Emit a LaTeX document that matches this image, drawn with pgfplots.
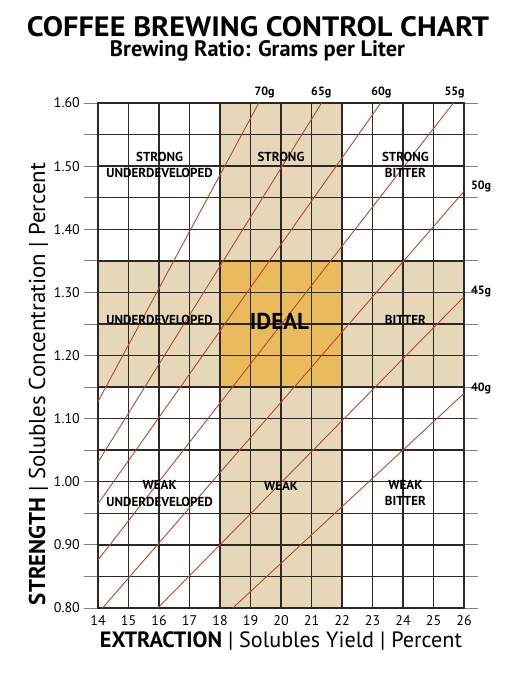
\documentclass[border=0pt]{standalone}
\usepackage{fontspec}
\setmainfont{PT Sans}
\usepackage{graphicx}
\usepackage{pgfplots}
\pgfplotsset{compat=1.18}
\definecolor{tanband}{RGB}{231,215,185}
\definecolor{idealgold}{RGB}{234,187,92}
\definecolor{ratioline}{RGB}{185,72,50}
\definecolor{gridc}{RGB}{45,40,35}
\begin{document}
\begin{tikzpicture}
\path (0pt,0pt) rectangle (516pt,688pt);
\node[anchor=base, inner sep=0] at (258pt,651.5pt) {\resizebox{462pt}{20pt}{\bfseries COFFEE BREWING CONTROL CHART}};
\node[anchor=base, inner sep=0] at (257.5pt,631pt) {\resizebox{295pt}{!}{\bfseries Brewing Ratio: Grams per Liter}};
\node[anchor=base, inner sep=0, rotate=90] at (45pt,304pt) {\resizebox{442pt}{!}{\textbf{STRENGTH} | Solubles Concentration | Percent}};
\node[anchor=base, inner sep=0] at (281pt,40pt) {\resizebox{362pt}{!}{\textbf{EXTRACTION} | Solubles Yield | Percent}};
\begin{axis}[
  at={(98pt,80pt)}, anchor=south west, scale only axis,
  width=366pt, height=505pt,
  xmin=14, xmax=26, ymin=0.8, ymax=1.6,
  set layers, clip=false,
  xtick={14,15,16,17,18,19,20,21,22,23,24,25,26},
  ytick={0.8,0.85,0.9,0.95,1.0,1.05,1.1,1.15,1.2,1.25,1.3,1.35,1.4,1.45,1.5,1.55,1.6},
  yticklabels={0.80,{},0.90,{},1.00,{},1.10,{},1.20,{},1.30,{},1.40,{},1.50,{},1.60},
  grid=major,
  major grid style={gridc, line width=1.4pt},
  axis line style={gridc, line width=1.4pt},
  ytick align=outside,
  major tick length=14pt,
  ytick style={gray, line width=0.8pt},
  xtick style={draw=none},
  /pgf/number format/assume math mode=true,
  yticklabel style={font=\fontsize{14}{14}\selectfont, inner sep=0pt, xshift=-4pt},
  xticklabel style={font=\fontsize{14}{14}\selectfont, inner sep=0pt, yshift=-7pt},
]
\addplot[on layer=axis background, fill=tanband, draw=none] coordinates {(18,0.8) (22,0.8) (22,1.6) (18,1.6)};
\addplot[on layer=axis background, fill=tanband, draw=none] coordinates {(14,1.15) (26,1.15) (26,1.35) (14,1.35)};
\addplot[on layer=axis background, fill=idealgold, draw=none] coordinates {(18,1.15) (22,1.15) (22,1.35) (18,1.35)};

\addplot[ratioline, line width=0.9pt] coordinates {(14,1.127) (19.27,1.60)};
\addplot[ratioline, line width=0.9pt] coordinates {(14,1.031) (21.33,1.60)};
\addplot[ratioline, line width=0.9pt] coordinates {(14,0.965) (23.27,1.60)};
\addplot[ratioline, line width=0.9pt] coordinates {(14,0.876) (25.65,1.60)};
\addplot[ratioline, line width=0.9pt] coordinates {(14.15,0.80) (26,1.46)};
\addplot[ratioline, line width=0.9pt] coordinates {(15.96,0.80) (26,1.293)};
\addplot[ratioline, line width=0.9pt] coordinates {(18.42,0.80) (26,1.14)};

\begin{scope}[every node/.style={font=\fontsize{12}{12}\selectfont\bfseries, inner sep=0pt}]
\node at (axis cs:19.46,1.616) {70g};
\node at (axis cs:21.32,1.616) {65g};
\node at (axis cs:23.29,1.616) {60g};
\node at (axis cs:25.69,1.616) {55g};
\node at (axis cs:26.56,1.4685) {50g};
\node at (axis cs:26.56,1.3006) {45g};
\node at (axis cs:26.56,1.1485) {40g};
\end{scope}

\begin{scope}[every node/.style={font=\fontsize{13}{13}\selectfont\bfseries, inner sep=0pt}]
\node at (axis cs:16.02,1.5145) {STRONG};
\node at (axis cs:16.02,1.4899) {UNDERDEVELOPED};
\node at (axis cs:20.0,1.5145) {STRONG};
\node at (axis cs:24.08,1.5145) {STRONG};
\node at (axis cs:24.08,1.4899) {BITTER};
\node at (axis cs:16.02,1.2569) {UNDERDEVELOPED};
\node at (axis cs:24.08,1.2569) {BITTER};
\node at (axis cs:16.02,0.9944) {WEAK};
\node at (axis cs:16.02,0.968) {UNDERDEVELOPED};
\node at (axis cs:20.0,0.9937) {WEAK};
\node at (axis cs:24.08,0.9944) {WEAK};
\node at (axis cs:24.08,0.969) {BITTER};
\node[font=\fontsize{23}{23}\selectfont\bfseries] at (axis cs:19.95,1.2534) {IDEAL};
\end{scope}
\end{axis}
\end{tikzpicture}
\end{document}
